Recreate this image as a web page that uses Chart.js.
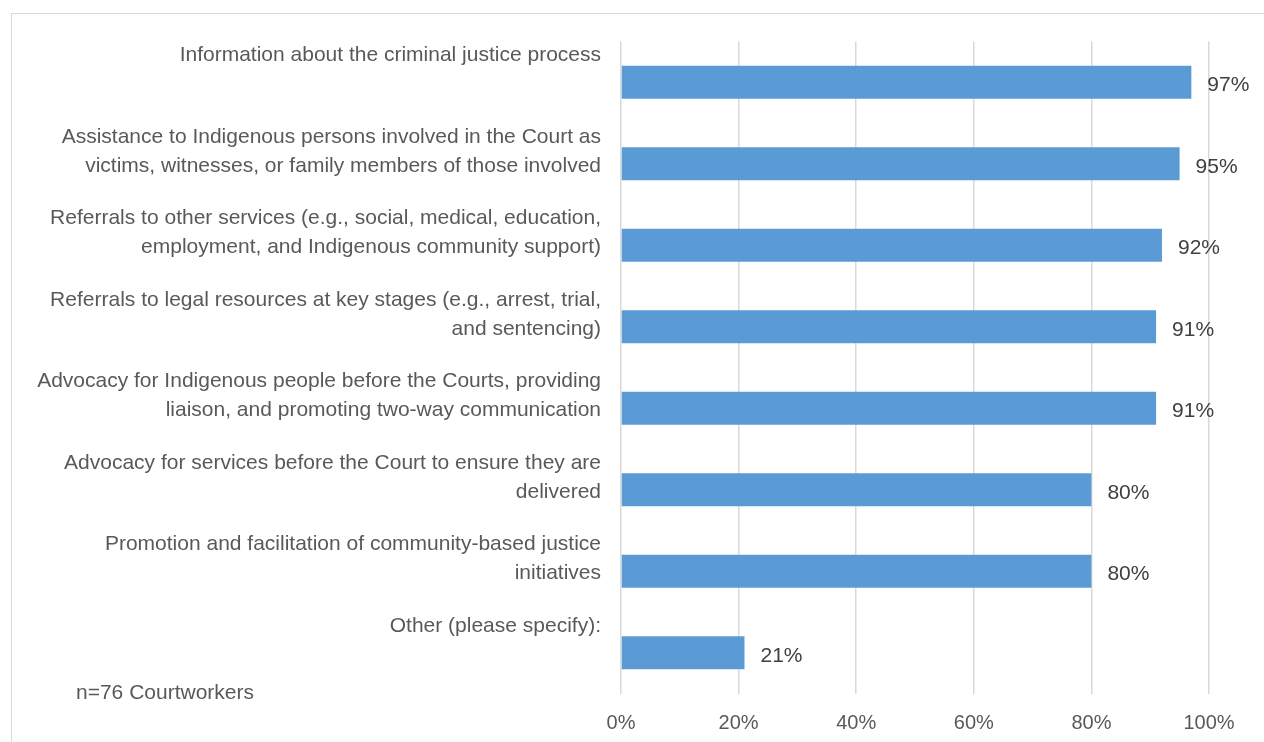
<!DOCTYPE html>
<html>
<head>
<meta charset="utf-8">
<script src="https://cdn.jsdelivr.net/npm/chart.js@4"></script>
<style>
  body { margin: 0; background: #fff; }
  #wrap { position: relative; width: 1264px; height: 742px; overflow: hidden; }
  #frame { position: absolute; left: 11px; top: 13px; width: 1400px; height: 900px; border-left: 1px solid #d9d9d9; border-top: 1px solid #d9d9d9; }
  canvas { position: absolute; left: 0; top: 0; }
</style>
</head>
<body>
<div id="wrap">
  <div id="frame"></div>
  <canvas id="grafico" width="1264" height="742"></canvas>
</div>
<script>
// categorias (cada uma quebrada em linhas como no original)
const categorias = [
  ['Information about the criminal justice process'],
  ['Assistance to Indigenous persons involved in the Court as', 'victims, witnesses, or family members of those involved'],
  ['Referrals to other services (e.g., social, medical, education,', 'employment, and Indigenous community support)'],
  ['Referrals to legal resources at key stages (e.g., arrest, trial,', 'and sentencing)'],
  ['Advocacy for Indigenous people before the Courts, providing', 'liaison, and promoting two-way communication'],
  ['Advocacy for services before the Court to ensure they are', 'delivered'],
  ['Promotion and facilitation of community-based justice', 'initiatives'],
  ['Other (please specify):']
];
const valores = [97, 95, 92, 91, 91, 80, 80, 21];
const ticksX = ['0%', '20%', '40%', '60%', '80%', '100%'];
const nota = 'n=76 Courtworkers';

const corTexto = '#595959';
const fonte = '"Liberation Sans", Arial, sans-serif';

// desenha os rótulos das categorias no topo de cada faixa, e os valores
const rotulos = {
  id: 'rotulos',
  afterDatasetsDraw(chart) {
    const ctx = chart.ctx;
    const y = chart.scales.y;
    const area = chart.chartArea;
    const faixa = (area.bottom - area.top) / categorias.length;
    ctx.save();
    ctx.font = '21px ' + fonte;
    ctx.fillStyle = corTexto;
    ctx.textAlign = 'right';
    ctx.textBaseline = 'middle';
    categorias.forEach((linhas, i) => {
      const topo = y.getPixelForValue(i) - faixa / 2;
      linhas.forEach((l, k) => {
        ctx.fillText(l, area.left - 20, topo + 14 + k * 29);
      });
    });
    // valores ao lado das barras
    ctx.fillStyle = '#404040';
    ctx.textAlign = 'left';
    const meta = chart.getDatasetMeta(0);
    meta.data.forEach((bar, i) => {
      ctx.fillText(valores[i] + '%', bar.x + 16, bar.y + 3);
    });
    // nota
    ctx.fillStyle = corTexto;
    ctx.fillText(nota, 76, 693);
    ctx.restore();
  }
};

let ctxG = document.getElementById('grafico').getContext('2d');

let grafico = new Chart(ctxG, {
  type: 'bar',
  data: {
    labels: categorias.map(c => c.join(' ')),
    datasets: [{
      data: valores,
      backgroundColor: '#5b9bd5',
      borderColor: '#5b9bd5',
      borderWidth: 0,
      barPercentage: 0.405,
      categoryPercentage: 1.0
    }]
  },
  options: {
    indexAxis: 'y',
    responsive: false,
    animation: false,
    layout: {
      padding: { top: 41.5, right: 55, left: 0, bottom: 0 }
    },
    plugins: {
      legend: { display: false },
      tooltip: { enabled: false }
    },
    scales: {
      x: {
        min: 0,
        max: 100,
        ticks: {
          stepSize: 20,
          color: corTexto,
          font: { size: 20, family: fonte },
          padding: 18,
          callback: (v, i) => ticksX[i]
        },
        grid: {
          color: '#d9d9d9',
          lineWidth: 1.5,
          drawTicks: false
        },
        border: { display: false },
        afterFit: (s) => { s.height = 48.5; }
      },
      y: {
        ticks: { display: false },
        grid: { display: false },
        border: { display: false },
        afterFit: (s) => { s.width = 621; }
      }
    }
  },
  plugins: [rotulos]
});
</script>
</body>
</html>
